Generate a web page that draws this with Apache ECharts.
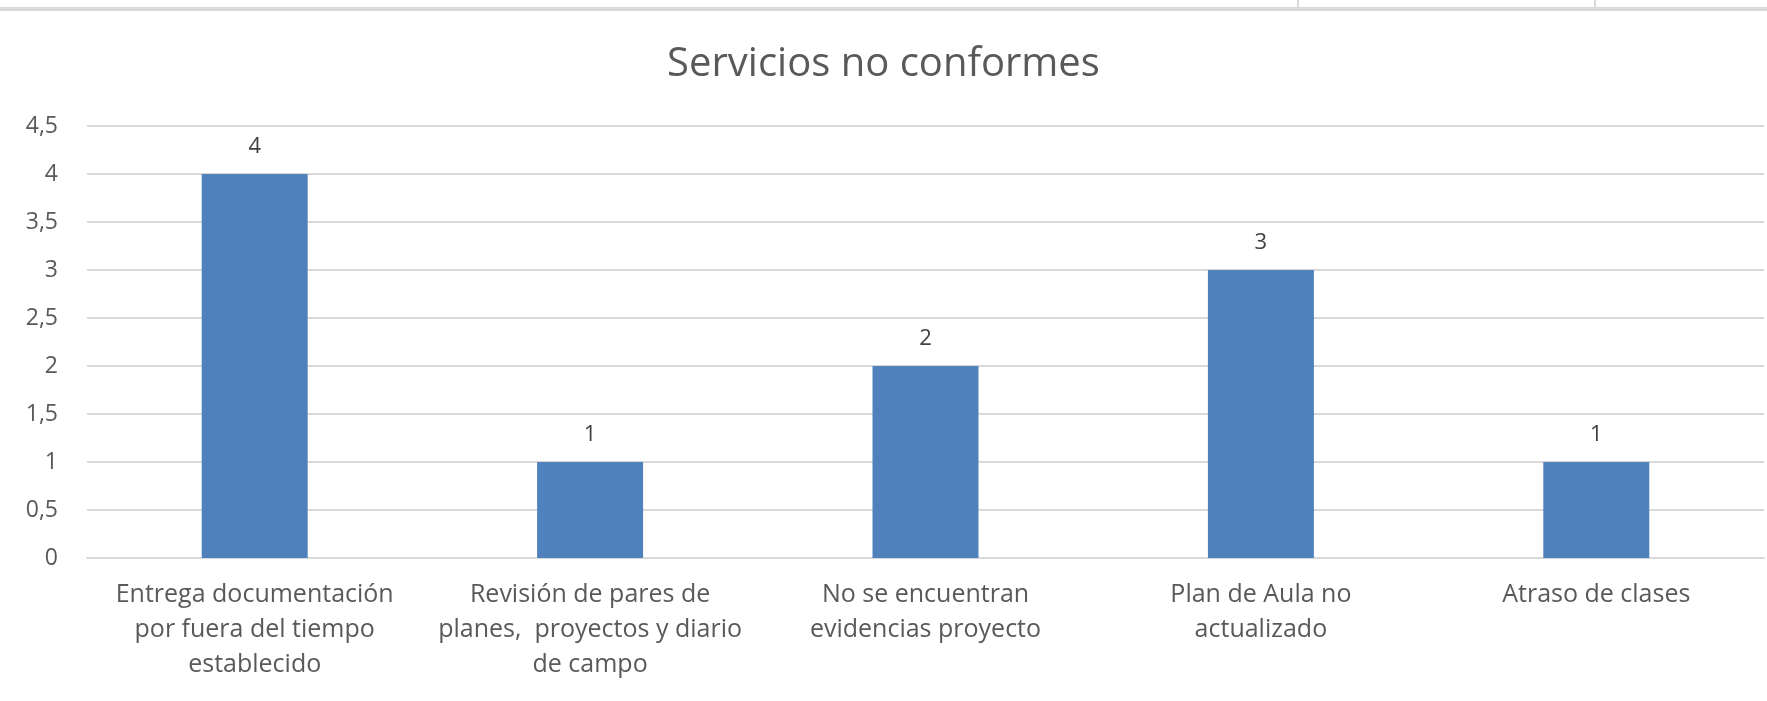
<!DOCTYPE html>
<html>
<head>
<meta charset="utf-8">
<script src="https://cdn.jsdelivr.net/npm/echarts@6/dist/echarts.min.js"></script>
<style>
  html, body { margin: 0; padding: 0; background: #fff; }
  #chart { width: 1767px; height: 701px; }
</style>
</head>
<body>
<div id="chart"></div>
<script>
// categorías (con saltos de línea como en el original)
var categories = [
  'Entrega documentación\npor fuera del tiempo\nestablecido',
  'Revisión de pares de\nplanes,  proyectos y diario\nde campo',
  'No se encuentran\nevidencias proyecto',
  'Plan de Aula no\nactualizado',
  'Atraso de clases'
];
// cantidad de servicios no conformes
var values = [4, 1, 2, 3, 1];

var chart = echarts.init(document.getElementById('chart'));
var option = {
  backgroundColor: '#fff',
  animation: false,
  title: {
    text: 'Servicios no conformes',
    left: 'center',
    top: 40,
    textStyle: { color: '#595959', fontSize: 40, fontWeight: 'normal', fontFamily: 'Open Sans' }
  },
  // bordes de celdas de la hoja arriba
  graphic: [
    { type: 'rect', shape: { x: 0, y: 7, width: 1767, height: 4 }, style: { fill: '#d9d9d9' } },
    { type: 'rect', shape: { x: 1297, y: 0, width: 2, height: 7 }, style: { fill: '#d9d9d9' } },
    { type: 'rect', shape: { x: 1594, y: 0, width: 2, height: 7 }, style: { fill: '#d9d9d9' } }
  ],
  grid: { left: 87, right: 3, top: 126, bottom: 143, containLabel: false },
  xAxis: {
    type: 'category',
    data: categories,
    axisTick: { show: false },
    axisLine: { lineStyle: { color: '#d9d9d9', width: 2 } },
    axisLabel: {
      interval: 0,
      margin: 19,
      color: '#595959',
      fontSize: 25,
      lineHeight: 35,
      fontFamily: 'Open Sans'
    }
  },
  yAxis: {
    type: 'value',
    min: 0,
    max: 4.5,
    interval: 0.5,
    axisLine: { show: false },
    axisTick: { show: false },
    splitLine: { lineStyle: { color: '#d9d9d9', width: 2 } },
    axisLabel: {
      margin: 29,
      color: '#595959',
      fontSize: 23,
      fontFamily: 'Open Sans',
      formatter: function (v) { return String(v).replace('.', ','); }
    }
  },
  series: [{
    type: 'bar',
    data: values,
    barWidth: '31.6%',
    itemStyle: { color: '#4f81bd' },
    label: {
      show: true,
      position: 'top',
      distance: 16,
      color: '#404040',
      fontSize: 22,
      fontFamily: 'Open Sans'
    }
  }]
};
chart.setOption(option);
</script>
</body>
</html>
